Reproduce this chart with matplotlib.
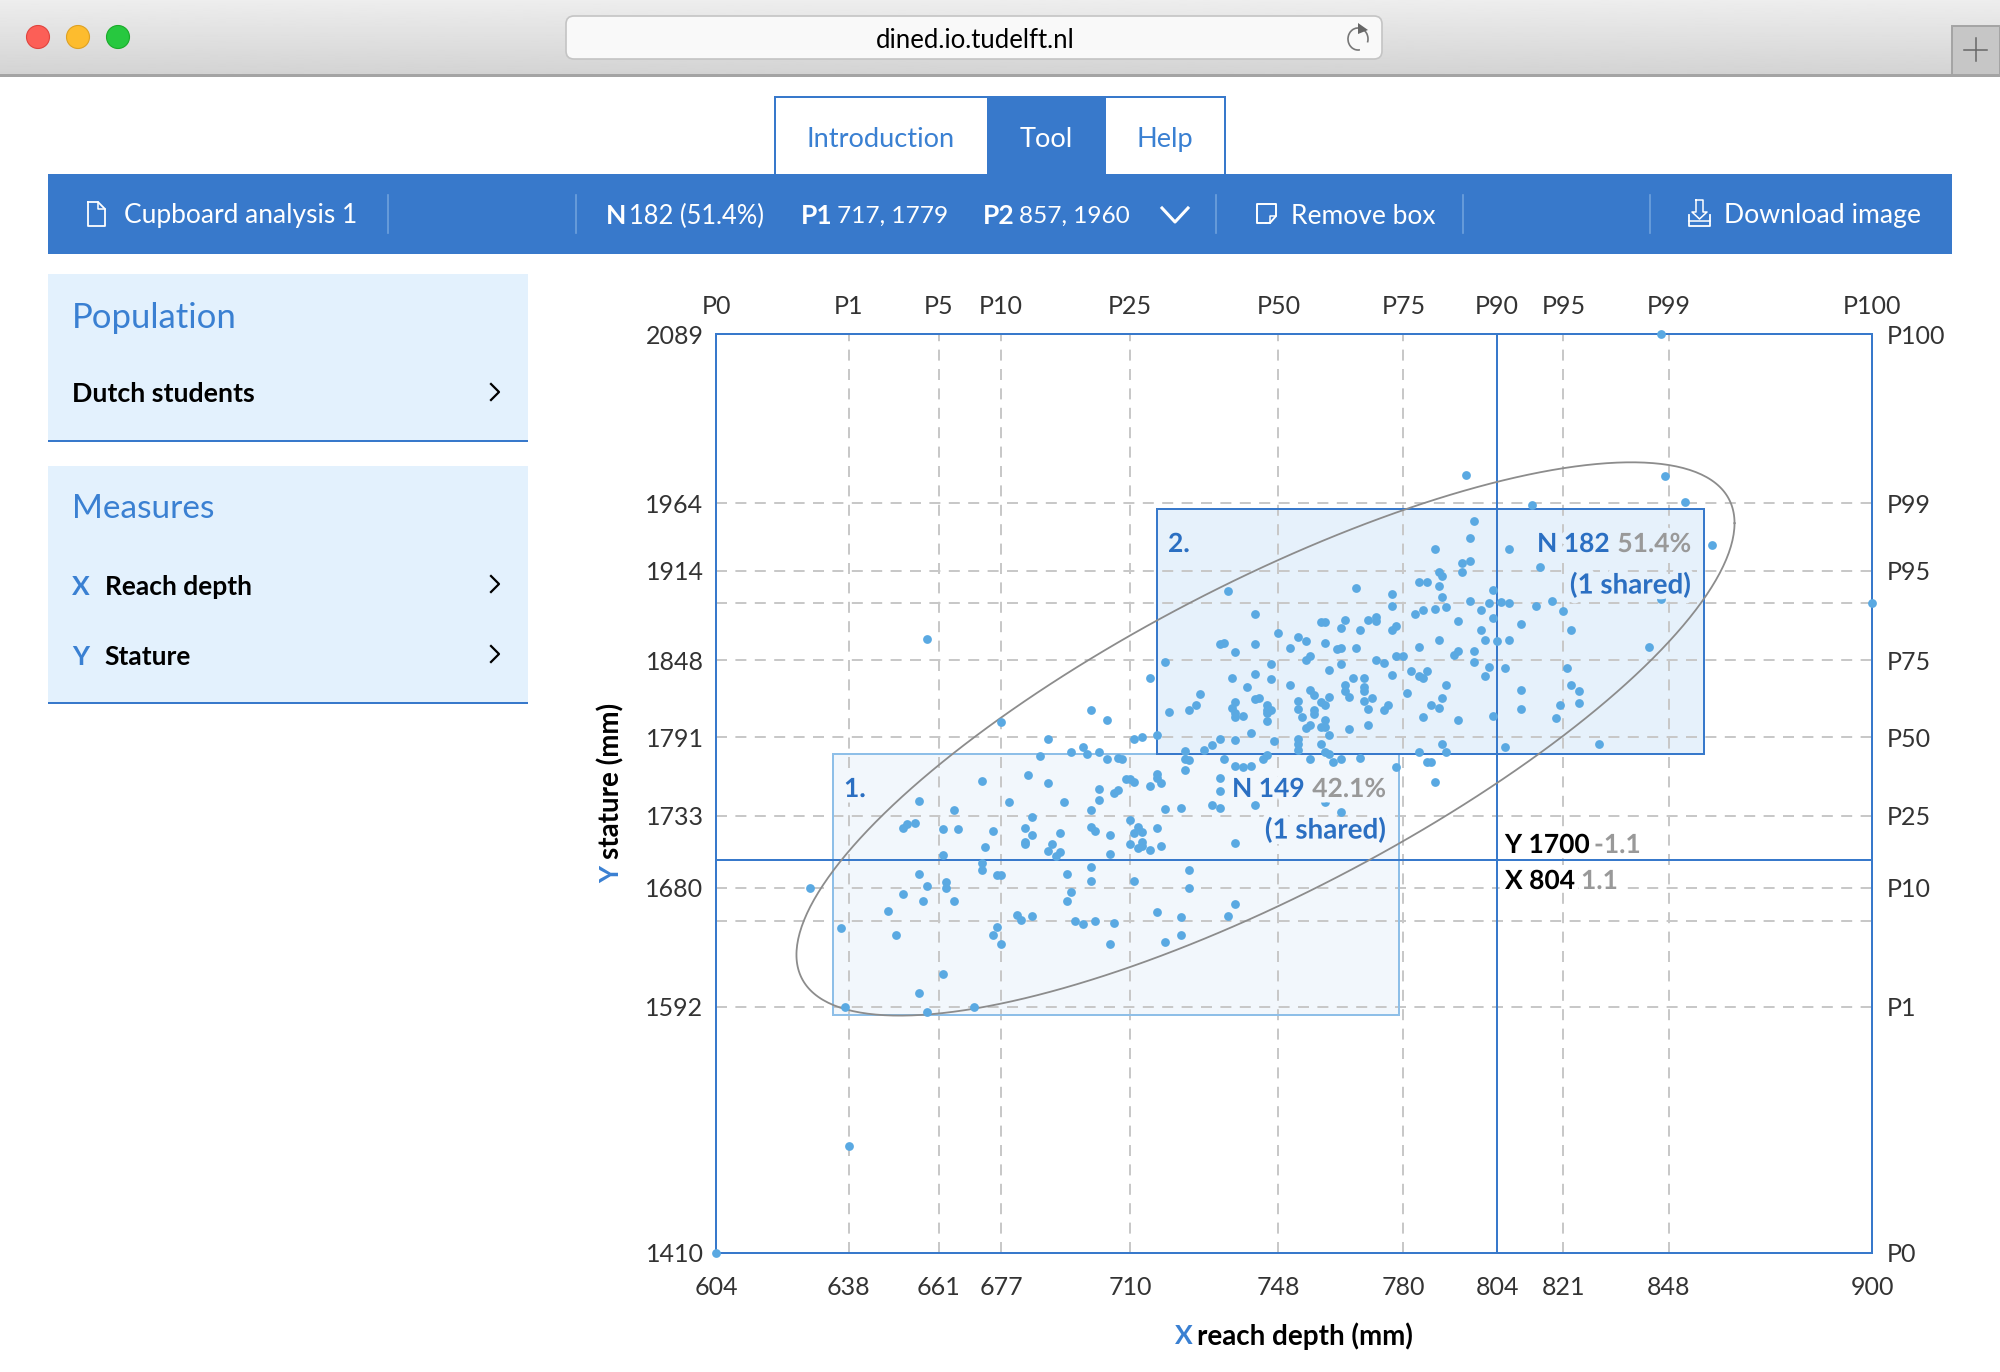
import numpy as np
import matplotlib
matplotlib.use('Agg')
import matplotlib.pyplot as plt
import matplotlib.patheffects as pe
from matplotlib.patches import Rectangle, Circle, FancyBboxPatch, Arc, Polygon

plt.rcParams['font.family'] = ['Lato', 'DejaVu Sans']

# === DATA ===
# dot positions (mm), same order in both lists
reach_depth = [
    677, 689, 695, 687, 672, 684, 689, 656, 679, 693, 665, 685, 655, 653, 652, 662, 666, 675, 683, 685, 692, 683, 683, 673, 690, 689, 692, 691, 662,
    672, 672, 656, 676, 677, 694, 663, 663, 658, 628, 652, 695, 657, 665, 694, 648, 681, 682, 685, 696, 676, 636, 650, 675, 677, 662, 656, 637, 670, 658,
    719, 715, 700, 704, 736, 742, 746, 746, 755, 764, 761, 767, 751, 740, 765, 765, 766, 756, 757, 761, 728, 727, 725, 720, 737, 736, 737, 737, 739,
    742, 743, 745, 745, 746, 745, 745, 753, 753, 754, 759, 760, 757, 757, 760, 756, 755, 759, 760, 766, 761, 741, 717, 713, 711, 733, 737, 747, 753,
    753, 753, 759, 731, 729, 724, 698, 699, 702, 704, 707, 708, 724, 725, 724, 734, 737, 739, 741, 744, 745, 756, 760, 761, 762, 764, 769, 717, 717,
    718, 715, 709, 710, 711, 702, 707, 706, 702, 733, 733, 731, 733, 723, 719, 700, 742, 760, 764, 710, 700, 701, 712, 717, 713, 711, 705, 713, 710,
    713, 712, 718, 715, 737, 705, 700, 700, 711, 725, 725, 698, 701, 706, 705, 717, 723, 723, 719, 735, 737,
    735, 768, 742, 765, 759, 760, 764, 748, 753, 755, 760, 733, 734, 742, 751, 763, 764, 768, 737, 756, 769,
    777, 777, 784, 786, 789, 789, 790, 771, 773, 773, 778, 777, 783, 785, 788, 789, 784, 773, 775, 778, 780, 782, 784, 785, 786, 777, 770, 770, 770, 770, 772, 781,
    791, 797, 802, 800, 805, 807, 814, 818, 821, 803, 794, 810, 823, 800, 801, 804, 807, 798, 794, 793, 798, 802, 806, 822, 801, 791, 810, 823, 825,
    790, 787, 789, 825, 820, 810, 785, 794, 803, 819, 771, 776, 775, 771, 790, 806, 830, 784, 791, 786, 787, 778, 788,
    796, 847, 813, 852, 798, 797, 788, 807, 859, 795, 797, 815, 790, 795, 803, 846, 843,
    846, 900, 638, 604, 658,
]
stature = [
    1802, 1790, 1780, 1777, 1759, 1763, 1757, 1744, 1743, 1743, 1737, 1732, 1728, 1727, 1724, 1723, 1723, 1722, 1724, 1719, 1720, 1714, 1712, 1710, 1712, 1707, 1706, 1703, 1704,
    1698, 1693, 1690, 1689, 1689, 1690, 1684, 1680, 1681, 1680, 1675, 1677, 1670, 1670, 1670, 1663, 1660, 1656, 1659, 1655, 1651, 1650, 1645, 1645, 1638, 1616, 1602, 1592, 1592, 1588,
    1847, 1835, 1811, 1804, 1835, 1838, 1845, 1834, 1848, 1845, 1841, 1835, 1830, 1828, 1830, 1825, 1821, 1826, 1822, 1821, 1823, 1815, 1811, 1810, 1817, 1813, 1809, 1806, 1807,
    1819, 1820, 1815, 1811, 1811, 1809, 1803, 1818, 1812, 1806, 1817, 1815, 1811, 1808, 1804, 1800, 1798, 1799, 1799, 1797, 1793, 1794, 1793, 1791, 1790, 1790, 1789, 1788, 1790,
    1786, 1782, 1786, 1785, 1782, 1781, 1784, 1779, 1780, 1775, 1776, 1775, 1775, 1774, 1767, 1775, 1770, 1769, 1770, 1775, 1778, 1775, 1780, 1779, 1773, 1775, 1776, 1764, 1761,
    1757, 1755, 1760, 1760, 1758, 1753, 1752, 1750, 1745, 1761, 1751, 1741, 1739, 1739, 1738, 1737, 1741, 1743, 1736, 1730, 1725, 1722, 1725, 1724, 1721, 1720, 1719, 1714, 1712,
    1711, 1709, 1711, 1708, 1713, 1705, 1695, 1685, 1685, 1693, 1680, 1653, 1655, 1654, 1638, 1662, 1658, 1645, 1640, 1659, 1668,
    1899, 1901, 1882, 1878, 1876, 1876, 1872, 1868, 1865, 1862, 1861, 1860, 1861, 1860, 1857, 1856, 1857, 1857, 1854, 1851, 1870,
    1897, 1888, 1906, 1906, 1913, 1903, 1895, 1878, 1880, 1877, 1873, 1870, 1882, 1885, 1886, 1863, 1858, 1848, 1846, 1851, 1851, 1840, 1836, 1835, 1840, 1837, 1835, 1828, 1825, 1818, 1820, 1824,
    1887, 1892, 1890, 1885, 1891, 1890, 1888, 1892, 1884, 1879, 1877, 1875, 1870, 1870, 1863, 1862, 1863, 1855, 1855, 1852, 1847, 1843, 1842, 1842, 1836, 1830, 1826, 1830, 1825,
    1820, 1815, 1813, 1816, 1815, 1812, 1806, 1804, 1807, 1805, 1800, 1815, 1811, 1812, 1786, 1784, 1786, 1780, 1780, 1773, 1773, 1769, 1758,
    1985, 1984, 1963, 1965, 1951, 1938, 1930, 1930, 1933, 1920, 1921, 1917, 1910, 1913, 1900, 1893, 1858,
    2089, 1890, 1489, 1410, 1864,
]

# percentile ticks
x_ticks = [604, 638, 661, 677, 710, 748, 780, 804, 821, 848, 900]
x_pct = ['P0', 'P1', 'P5', 'P10', 'P25', 'P50', 'P75', 'P90', 'P95', 'P99', 'P100']
y_grid = [1592, 1655, 1680, 1733, 1791, 1848, 1890, 1914, 1964]
y_ticks = [1410, 1592, 1680, 1733, 1791, 1848, 1914, 1964, 2089]
y_pct = ['P0', 'P1', 'P10', 'P25', 'P50', 'P75', 'P95', 'P99', 'P100']

# boxes: x0, x1, y0, y1
box_1 = [634, 779, 1586, 1779]
box_2 = [717, 857, 1779, 1960]
cross_x, cross_y = 804, 1700

# ellipse stats
ell_cx, ell_cy = 744.7, 1789.8
ell_a, ell_b = 120.1, 204.4
ell_rho = 0.78

# === COLOURS ===
BLUE = '#3879cb'
TXT_BLUE = '#3a80d2'
DARK_BLUE = '#2b6fc2'
DOT = '#5aa9e2'
GRID = '#c8c8c8'
PANEL = '#e3f1fd'
TICK = '#333333'

W, H = 2000, 1372
fig = plt.figure(figsize=(W / 100, H / 100), dpi=100)

# === CHART ===
ax = fig.add_axes([716 / W, 1 - 1253 / H, 1156 / W, 919 / H])
ax.set_xlim(604, 900)
ax.set_ylim(1410, 2089)
ax.set_zorder(1)
lw2 = 1.44
dash = (0, (5.5, 4.2))

for b, fc in [(box_1, '#f2f7fc'), (box_2, '#e6f1fb')]:
    ax.add_patch(Rectangle((b[0], b[2]), b[1] - b[0], b[3] - b[2], fc=fc, ec='none', zorder=1))
for v in x_ticks[1:-1]:
    ax.axvline(v, color=GRID, lw=lw2, ls=dash, zorder=2)
for v in y_grid:
    ax.axhline(v, color=GRID, lw=lw2, ls=dash, zorder=2)
for b, ec in [(box_1, '#8ebfe8'), (box_2, BLUE)]:
    ax.add_patch(Rectangle((b[0], b[2]), b[1] - b[0], b[3] - b[2], fc='none', ec=ec, lw=lw2, zorder=3))

ax.axvline(cross_x, color=BLUE, lw=lw2, zorder=4)
ax.axhline(cross_y, color=BLUE, lw=lw2, zorder=4)

t = np.linspace(0, 2 * np.pi, 400)
ell_x = ell_cx + ell_a * np.cos(t)
ell_y = ell_cy + ell_b * np.cos(t - np.arccos(ell_rho))
ax.plot(ell_x, ell_y, color='#8c8c8c', lw=1.3, zorder=5)

ax.scatter(reach_depth, stature, s=40, color=DOT, linewidths=0, zorder=6, clip_on=False)

for s in ax.spines.values():
    s.set_color(BLUE)
    s.set_linewidth(lw2)
ax.set_xticks(x_ticks)
ax.set_xticklabels([str(v) for v in x_ticks])
ax.set_yticks(y_ticks)
ax.set_yticklabels([str(v) for v in y_ticks])
ax.tick_params(axis='x', length=0, labelsize=18, labelcolor=TICK, pad=16.5)
ax.tick_params(axis='y', length=0, labelsize=18, labelcolor=TICK, pad=9)

top = ax.secondary_xaxis('top')
top.set_xticks(x_ticks)
top.set_xticklabels(x_pct)
top.tick_params(length=0, labelsize=18, labelcolor=TICK, pad=11.5)
top.spines['top'].set_visible(False)
right = ax.secondary_yaxis('right')
right.set_yticks(y_ticks)
right.set_yticklabels(y_pct)
right.tick_params(length=0, labelsize=18, labelcolor=TICK, pad=10.5)
right.spines['right'].set_visible(False)

# === PAGE (pixel coordinates) ===
pg = fig.add_axes([0, 0, 1, 1])
pg.set_zorder(2)
pg.patch.set_visible(False)
pg.axis('off')

grad = np.linspace(0.93, 0.83, 64).reshape(-1, 1)
pg.imshow(grad, extent=(0, W, 74, 0), cmap='gray', vmin=0, vmax=1, aspect='auto', zorder=0)
pg.add_patch(Rectangle((0, 74), W, 2.5, fc='#a4a4a4', ec='none', zorder=1))
pg.add_patch(Rectangle((1952, 26), 48, 49, fc='#c6c6c6', ec='#a4a4a4', lw=1.4, zorder=1))
pg.plot([1964, 1987], [50, 50], color='#666666', lw=1.1, zorder=2)
pg.plot([1975.5, 1975.5], [38, 61], color='#666666', lw=1.1, zorder=2)

for cx, fc, ec in [(38, '#fc5f57', '#e0443e'), (78, '#fdbc2e', '#dea123'), (118, '#27c83f', '#1aab29')]:
    pg.add_patch(Circle((cx, 37), 11.5, fc=fc, ec=ec, lw=0.8, zorder=2))

pg.add_patch(FancyBboxPatch((566, 16), 816, 43, boxstyle='round,pad=0,rounding_size=8',
                            fc='#f9f9f9', ec='#c4c4c4', lw=1.2, zorder=2))
pg.text(975, 40, 'dined.io.tudelft.nl', fontsize=18.5, color='black', ha='center', va='center', zorder=3)
pg.add_patch(Arc((1358, 39), 20, 22, theta1=-280, theta2=20, color='#777777', lw=1.2, zorder=3))
pg.add_patch(Polygon([[1358, 23], [1368, 30], [1358, 34]], fc='#666666', ec='none', zorder=3))

# tabs and blue bar
pg.add_patch(Rectangle((48, 174), 1904, 80, fc=BLUE, ec='none', zorder=2))
pg.add_patch(Rectangle((775, 97), 330, 78, fc='white', ec=BLUE, lw=lw2, zorder=1))
pg.add_patch(Rectangle((988, 97), 117, 78, fc=BLUE, ec=BLUE, lw=lw2, zorder=1))
pg.add_patch(Rectangle((1105, 97), 120, 78, fc='white', ec=BLUE, lw=lw2, zorder=1))
pg.text(881, 139.5, 'Introduction', fontsize=19.6, color=TXT_BLUE, ha='center', va='center')
pg.text(1046, 139.5, 'Tool', fontsize=19.6, color='white', ha='center', va='center')
pg.text(1165, 139.5, 'Help', fontsize=19.6, color=TXT_BLUE, ha='center', va='center')

for v in [388, 576, 1216, 1463, 1650]:
    pg.plot([v, v], [195, 233], color='#6fa1dc', lw=1.2, zorder=3)

bar_y = 216
for x, s, w, fs in [(124, 'Cupboard analysis 1', 'normal', 19), (606, 'N', 'bold', 19), (629, '182 (51.4%)', 'normal', 18.4),
                    (801, 'P1', 'bold', 19), (837, '717, 1779', 'normal', 17.6), (983, 'P2', 'bold', 19),
                    (1019, '857, 1960', 'normal', 17.6), (1291, 'Remove box', 'normal', 19),
                    (1724, 'Download image', 'normal', 19.2)]:
    pg.text(x, bar_y, s, fontsize=fs, color='white', weight=w, ha='left', va='center', zorder=4)

pg.plot([1162, 1175, 1188], [208, 222, 208], color='white', lw=2.2, zorder=4)
# doc icon
pg.plot([88, 98, 105, 105, 88, 88], [202, 202, 209, 226, 226, 202], color='white', lw=1.3, zorder=4)
pg.plot([98, 98, 105], [202, 209, 209], color='white', lw=1.1, zorder=4)
# remove box icon
pg.plot([1266, 1257, 1257, 1276, 1276, 1270, 1266], [223, 223, 204, 204, 216, 223, 223], color='white', lw=1.4, zorder=4)
pg.plot([1270, 1270, 1276], [223, 216, 216], color='white', lw=1.1, zorder=4)
# download icon
pg.plot([1696, 1696, 1692, 1699.5, 1707, 1703, 1703, 1696], [200, 212, 212, 219, 212, 212, 200, 200], color='white', lw=1.1, zorder=4)
pg.plot([1689, 1689, 1710, 1710], [215, 226, 226, 215], color='white', lw=1.3, zorder=4)
pg.plot([1689, 1710], [221, 221], color='white', lw=1.1, zorder=4)

# side panels
for y0, y1 in [(274, 440), (466, 702)]:
    pg.add_patch(Rectangle((48, y0), 480, y1 - y0, fc=PANEL, ec='none', zorder=1))
    pg.add_patch(Rectangle((48, y1), 480, 2, fc=BLUE, ec='none', zorder=2))
pg.text(72, 317.5, 'Population', fontsize=25, color=TXT_BLUE, va='center')
pg.text(72, 508.5, 'Measures', fontsize=24, color=TXT_BLUE, va='center')
pg.text(72, 394.5, 'Dutch students', fontsize=19.3, color='black', weight='bold', va='center')
pg.text(72, 587, 'X', fontsize=19, color=TXT_BLUE, weight='bold', va='center')
pg.text(105, 587, 'Reach depth', fontsize=19, color='black', weight='bold', va='center')
pg.text(72, 657, 'Y', fontsize=19, color=TXT_BLUE, weight='bold', va='center')
pg.text(104, 657, 'Stature', fontsize=19, color='black', weight='bold', va='center')
for yc in [392, 584, 654]:
    pg.plot([491, 499, 491], [yc - 8, yc, yc + 8], color='black', lw=1.6, zorder=3)

# axis titles
pg.text(1175, 1336, 'X', fontsize=19, color=TXT_BLUE, weight='bold', va='center')
pg.text(1197, 1336, 'reach depth (mm)', fontsize=20, color='black', weight='bold', va='center')
pg.text(611, 883, 'Y', fontsize=19, color=TXT_BLUE, weight='bold', rotation=90, ha='center', va='bottom')
pg.text(611, 859, 'stature (mm)', fontsize=20, color='black', weight='bold', rotation=90, ha='center', va='bottom')


def note(x, y, s, color, ha='left', halo='#f2f7fc', size=19):
    txt = pg.text(x, y, s, fontsize=size, color=color, weight='bold', ha=ha, va='center', zorder=6)
    txt.set_path_effects([pe.withStroke(linewidth=8, foreground=halo)])


note(844, 789, '1.', DARK_BLUE)
note(1168, 544, '2.', DARK_BLUE, halo='#e6f1fb')
note(1232, 789, 'N 149', DARK_BLUE)
note(1386, 789, '42.1%', '#999999', ha='right')
note(1386, 830, '(1 shared)', DARK_BLUE, ha='right', size=20)
note(1537, 544, 'N 182', DARK_BLUE, halo='#e6f1fb')
note(1691, 544, '51.4%', '#999999', ha='right', halo='#e6f1fb')
note(1691, 585, '(1 shared)', DARK_BLUE, ha='right', halo='#e6f1fb', size=20)
note(1505, 845, 'Y 1700', 'black', halo='white')
note(1594, 845, '-1.1', '#999999', halo='white')
note(1505, 881, 'X 804', 'black', halo='white')
note(1581, 881, '1.1', '#999999', halo='white')

pg.set_xlim(0, W)
pg.set_ylim(H, 0)

fig.savefig('out.png', dpi=100)
